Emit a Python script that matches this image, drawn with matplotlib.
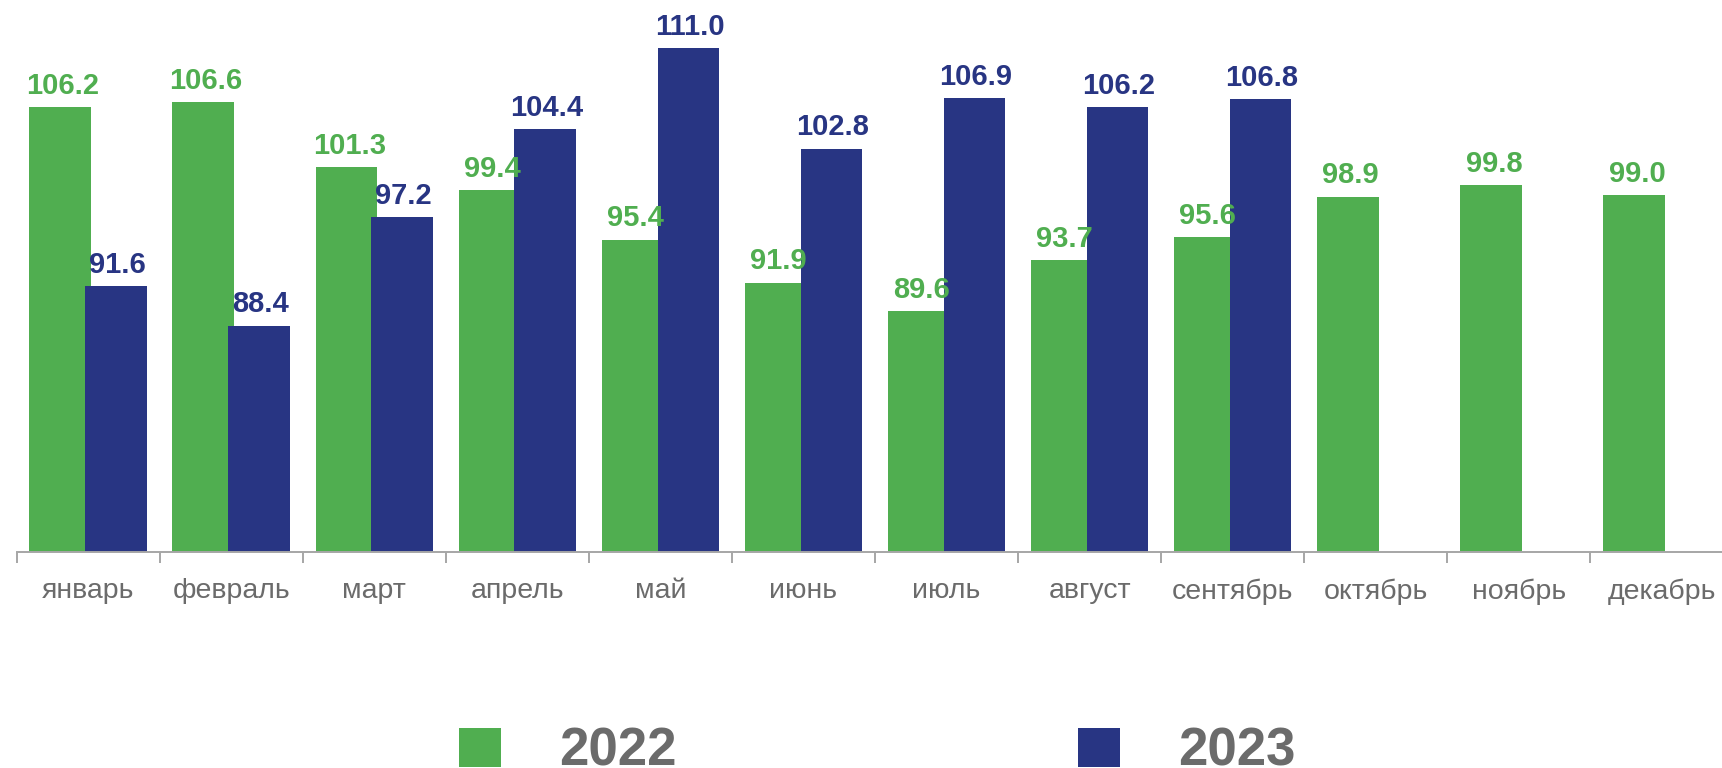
import matplotlib
matplotlib.use("Agg")
import matplotlib.pyplot as plt
import numpy as np

plt.rcParams['font.family'] = ['Liberation Sans', 'DejaVu Sans']

months = ["январь", "февраль", "март", "апрель", "май", "июнь",
          "июль", "август", "сентябрь", "октябрь", "ноябрь", "декабрь"]
vals_2022 = [106.2, 106.6, 101.3, 99.4, 95.4, 91.9, 89.6, 93.7, 95.6, 98.9, 99.8, 99.0]
vals_2023 = [91.6, 88.4, 97.2, 104.4, 111.0, 102.8, 106.9, 106.2, 106.8]
series_names = ["2022", "2023"]

green = "#50AE50"
blue = "#283583"
gray_text = "#6B6B6B"
axis_gray = "#A6A6A6"

fig = plt.figure(figsize=(17.22, 7.68), dpi=100)
ax = fig.add_axes([16.5 / 1722, 216 / 768, 1717 / 1722, 552 / 768])

x = np.arange(len(months))
x23 = np.arange(len(vals_2023))
w = 0.43
off = 0.195

b1 = ax.bar(x - off, vals_2022, width=w, color=green, zorder=2, label=series_names[0])
b2 = ax.bar(x23 + off, vals_2023, width=w, color=blue, zorder=3, label=series_names[1])

# value labels over the bars
for xi, v in zip(x, vals_2022):
    ax.annotate(f"{v:.1f}", (xi - off + 0.02, v), xytext=(0, 9.5), textcoords="offset points",
                ha="center", va="baseline", fontsize=21, fontweight="bold", color=green, zorder=4)
for xi, v in zip(x23, vals_2023):
    ax.annotate(f"{v:.1f}", (xi + off + 0.01, v), xytext=(0, 9.5), textcoords="offset points",
                ha="center", va="baseline", fontsize=21, fontweight="bold", color=blue, zorder=4)

ax.set_xlim(-0.5, 11.5)
ax.set_ylim(70, 70 + 552 / 12.3)

for s in ["top", "right", "left"]:
    ax.spines[s].set_visible(False)
ax.spines["bottom"].set_color(axis_gray)
ax.spines["bottom"].set_linewidth(1.4)
ax.spines["bottom"].set_zorder(5)
ax.set_yticks([])

ax.set_xticks(x)
ax.set_xticklabels(months, fontsize=20.5, color=gray_text)
ax.tick_params(axis="x", which="major", length=0, pad=19)
ax.set_xticks(np.arange(-0.5, 12, 1), minor=True)
ax.tick_params(axis="x", which="minor", length=8, width=1.4, color=axis_gray, direction="out")

fig.legend(handles=[b1, b2], labels=series_names, loc="upper left",
           bbox_to_anchor=(459 / 1722, 1 - 727 / 768), ncol=2, frameon=False,
           prop={"size": 38, "weight": "bold"}, labelcolor=gray_text,
           handlelength=0.8, handleheight=0.78, handletextpad=1.1,
           columnspacing=7.6, borderpad=0, borderaxespad=0)

fig.savefig("out.png", dpi=100)
